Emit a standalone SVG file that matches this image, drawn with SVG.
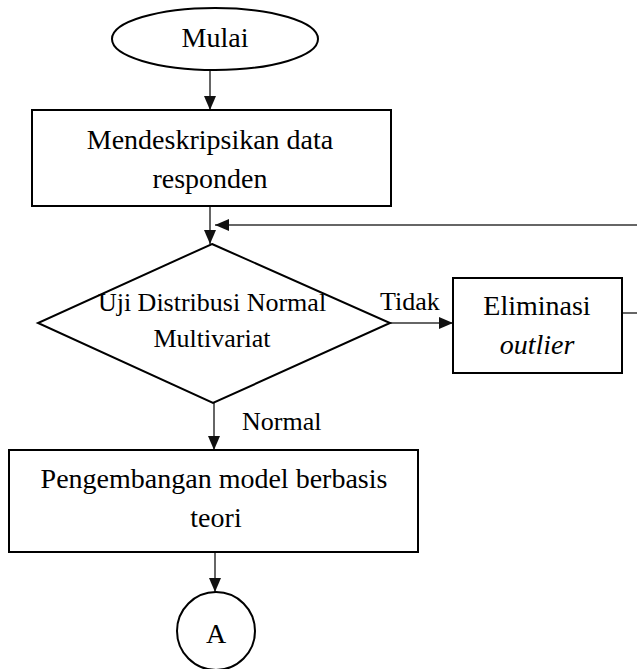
<svg xmlns="http://www.w3.org/2000/svg" width="637" height="669" viewBox="0 0 637 669">
<defs>
<marker id="ah" viewBox="0 0 14 12" refX="14" refY="6" markerWidth="14" markerHeight="12" markerUnits="userSpaceOnUse" orient="auto">
<path d="M0,0 L14,6 L0,12 Z" fill="#111"/>
</marker>
<style>
.shape{fill:#fff;stroke:#000;stroke-width:2}
.conn{fill:none;stroke:#333;stroke-width:1.5}
.t{font-family:"Liberation Serif","Times New Roman",serif;font-size:28px;fill:#000;text-anchor:middle}
.d{font-size:26px}
.s{font-family:"Liberation Serif","Times New Roman",serif;font-size:26px;fill:#000}
</style>
</defs>
<rect width="637" height="669" fill="#fff"/>
<g id="connectors">
<line class="conn" x1="210" y1="70" x2="210" y2="110" marker-end="url(#ah)"/>
<line class="conn" x1="210" y1="206" x2="210" y2="244" marker-end="url(#ah)"/>
<line class="conn" x1="637" y1="225" x2="215" y2="225" marker-end="url(#ah)"/>
<line class="conn" x1="622" y1="313" x2="637" y2="313"/>
<line class="conn" x1="390" y1="323" x2="453" y2="323" marker-end="url(#ah)"/>
<line class="conn" x1="214" y1="403" x2="214" y2="450" marker-end="url(#ah)"/>
<line class="conn" x1="215" y1="552" x2="215" y2="592" marker-end="url(#ah)"/>
<text class="s" x="380" y="310">Tidak</text>
<text class="s" x="242" y="430">Normal</text>
</g>
<g id="mulai">
<ellipse class="shape" cx="215" cy="39" rx="103" ry="31"/>
<text class="t" x="215" y="47">Mulai</text>
</g>
<g id="deskripsi">
<rect class="shape" x="32" y="110" width="359" height="96"/>
<text class="t" x="210" y="149">Mendeskripsikan data</text>
<text class="t" x="210" y="188">responden</text>
</g>
<g id="uji">
<polygon class="shape" points="212,244 390,323 213,403 38,323"/>
<text class="t d" x="212" y="311">Uji Distribusi Normal</text>
<text class="t d" x="212" y="347">Multivariat</text>
</g>
<g id="eliminasi">
<rect class="shape" x="453" y="278" width="169" height="95"/>
<text class="t" x="537" y="315">Eliminasi</text>
<text class="t" x="537" y="354" font-style="italic">outlier</text>
</g>
<g id="pengembangan">
<rect class="shape" x="9" y="450" width="409" height="102"/>
<text class="t" x="214" y="488">Pengembangan model berbasis</text>
<text class="t" x="216" y="527">teori</text>
</g>
<g id="a">
<circle class="shape" cx="216" cy="631" r="39"/>
<text class="t" x="216" y="643">A</text>
</g>
</svg>
